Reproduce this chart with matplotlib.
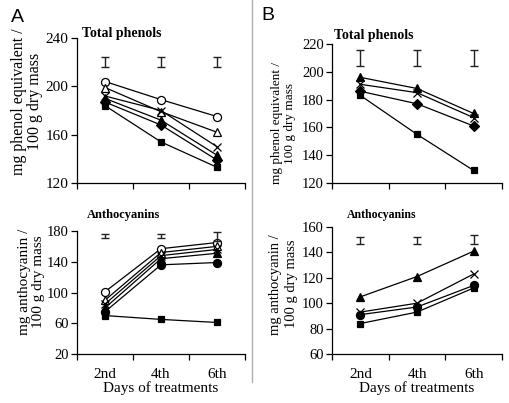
import matplotlib.pyplot as plt
from matplotlib.lines import Line2D

# --- data ---------------------------------------------------------------
days = ["2nd", "4th", "6th"]

# panel A, total phenols (mg phenol equivalent / 100 g dry mass)
a_phen_open_circle = [204, 189, 175]
a_phen_open_tri = [199, 179, 162]
a_phen_cross = [192, 180, 150]
a_phen_tri = [190, 172, 143]
a_phen_diamond = [187, 168, 139]
a_phen_square = [184, 154, 133]
a_phen_err = [220, 220, 220]
a_phen_err_half = [4, 4, 4]

# panel A, anthocyanins
a_anth_open_circle = [101, 157, 165]
a_anth_open_tri = [90, 152, 160]
a_anth_cross = [85, 148, 156]
a_anth_tri = [80, 144, 151]
a_anth_circle = [75, 136, 139]
a_anth_square = [70, 65, 61]
a_anth_err = [173, 173, 173]
a_anth_err_half = [2.6, 2.6, 5.5]

# panel B, total phenols
b_phen_tri = [196, 188, 170]
b_phen_cross = [191, 185, 167]
b_phen_diamond = [186, 177, 161]
b_phen_square = [183, 155, 129]
b_phen_err = [210, 210, 210]
b_phen_err_half = [5.5, 5.5, 5.5]

# panel B, anthocyanins
b_anth_tri = [105, 121, 141]
b_anth_cross = [93, 100, 123]
b_anth_circle = [91, 97, 114]
b_anth_square = [84, 93, 112]
b_anth_err = [149.5, 149.5, 150]
b_anth_err_half = [3, 3, 3.7]

# marker styles: (marker, filled)
OPEN_CIRCLE = ("o", False)
OPEN_TRI = ("^", False)
CROSS = ("x", True)
TRI = ("^", True)
DIAMOND = ("D", True)
CIRCLE = ("o", True)
SQUARE = ("s", True)

SERIF = "Liberation Serif"
xpos = [0.5, 1.5, 2.5]


def panel(fig, rect, series, err, err_half, ylim, yticks, ylabel, lab_fs,
          tick_fs, show_x, lab_ls=1.1):
    ax = fig.add_axes(rect)
    for vals, (mk, filled) in series:
        ms = 4.8 if mk in ("D", "s") else 5.8
        if mk == "^":
            ms = 6.2
        ax.plot(xpos, vals, color="black", lw=0.9, marker=mk, ms=ms,
                mfc="black" if filled else "white", mec="black", mew=0.9)
    ax.errorbar(xpos, err, yerr=err_half, fmt="none", ecolor="#222222",
                elinewidth=1.0, capsize=2.6, capthick=1.0)
    ax.set_xlim(0, 3)
    ax.set_ylim(*ylim)
    ax.set_yticks(yticks)
    ax.set_yticklabels([str(t) for t in yticks], family=SERIF,
                       fontsize=tick_fs)
    ax.set_xticks([0, 1, 2, 3])
    ax.set_xticklabels([])
    ax.tick_params(axis="both", direction="out", length=4, width=0.9,
                   pad=2, color="black")
    if show_x:
        ax.set_xticks(xpos, minor=True)
        ax.set_xticklabels(days, minor=True, family=SERIF, fontsize=11)
        ax.tick_params(axis="x", which="minor", length=0, pad=10)
        ax.set_xlabel("Days of treatments", family=SERIF, fontsize=11,
                      labelpad=0)
    for s in ("top", "right"):
        ax.spines[s].set_visible(False)
    for s in ("left", "bottom"):
        ax.spines[s].set_linewidth(0.9)
    ax.set_ylabel(ylabel, family=SERIF, fontsize=lab_fs, linespacing=lab_ls)
    return ax


fig = plt.figure(figsize=(5.10, 4.03), dpi=100)

W, H = 510.0, 403.0


def rect(x0, y0, x1, y1):
    return [x0 / W, 1 - y1 / H, (x1 - x0) / W, (y1 - y0) / H]


ax1 = panel(fig, rect(77, 38, 245, 183),
            [(a_phen_open_circle, OPEN_CIRCLE), (a_phen_open_tri, OPEN_TRI),
             (a_phen_cross, CROSS), (a_phen_tri, TRI),
             (a_phen_diamond, DIAMOND), (a_phen_square, SQUARE)],
            a_phen_err, a_phen_err_half, (120, 240), [120, 160, 200, 240],
            "mg phenol equivalent /\n100 g dry mass", 11.5, 11, False, 1.05)
ax1.yaxis.set_label_coords(-0.2, 0.56)

ax2 = panel(fig, rect(332, 44, 502, 183),
            [(b_phen_tri, TRI), (b_phen_cross, CROSS),
             (b_phen_diamond, DIAMOND), (b_phen_square, SQUARE)],
            b_phen_err, b_phen_err_half, (120, 220), [120, 140, 160, 180, 200, 220],
            "mg phenol equivalent /\n100 g dry mass", 9.5, 10.5, False)
ax2.yaxis.set_label_coords(-0.21, 0.43)

ax3 = panel(fig, rect(77, 231, 245, 354),
            [(a_anth_open_circle, OPEN_CIRCLE), (a_anth_open_tri, OPEN_TRI),
             (a_anth_cross, CROSS), (a_anth_tri, TRI),
             (a_anth_circle, CIRCLE), (a_anth_square, SQUARE)],
            a_anth_err, a_anth_err_half, (20, 180), [20, 60, 100, 140, 180],
            "mg anthocyanin /\n100 g dry mass", 11, 10.5, True)
ax3.yaxis.set_label_coords(-0.19, 0.59)

ax4 = panel(fig, rect(332, 227, 502, 354),
            [(b_anth_tri, TRI), (b_anth_cross, CROSS),
             (b_anth_circle, CIRCLE), (b_anth_square, SQUARE)],
            b_anth_err, b_anth_err_half, (60, 160), [60, 80, 100, 120, 140, 160],
            "mg anthocyanin /\n100 g dry mass", 10.5, 10.5, True, 1.3)
ax4.yaxis.set_label_coords(-0.2, 0.55)

# panel titles
fig.text(82 / W, 1 - 34 / H, "Total phenols", family=SERIF, weight="bold",
         fontsize=10, va="center", ha="left")
fig.text(334 / W, 1 - 36 / H, "Total phenols", family=SERIF, weight="bold",
         fontsize=10, va="center", ha="left")
fig.text(87 / W, 1 - 215 / H, "Anthocyanins", family=SERIF, weight="bold",
         fontsize=9, va="center", ha="left")
fig.text(347 / W, 1 - 215 / H, "Anthocyanins", family=SERIF, weight="bold",
         fontsize=8.5, va="center", ha="left")

# panel letters
fig.text(11 / W, 1 - 17 / H, "A", family="Liberation Sans", fontsize=14,
         va="center", ha="left")
fig.text(261 / W, 1 - 16 / H, "B", family="Liberation Sans", fontsize=14,
         va="center", ha="left")

# separator
fig.add_artist(Line2D([252 / W, 252 / W], [1 - 382 / H, 1.0],
                      color="#b0b0b0", lw=1.0))

fig.savefig("out.png", dpi=100)
